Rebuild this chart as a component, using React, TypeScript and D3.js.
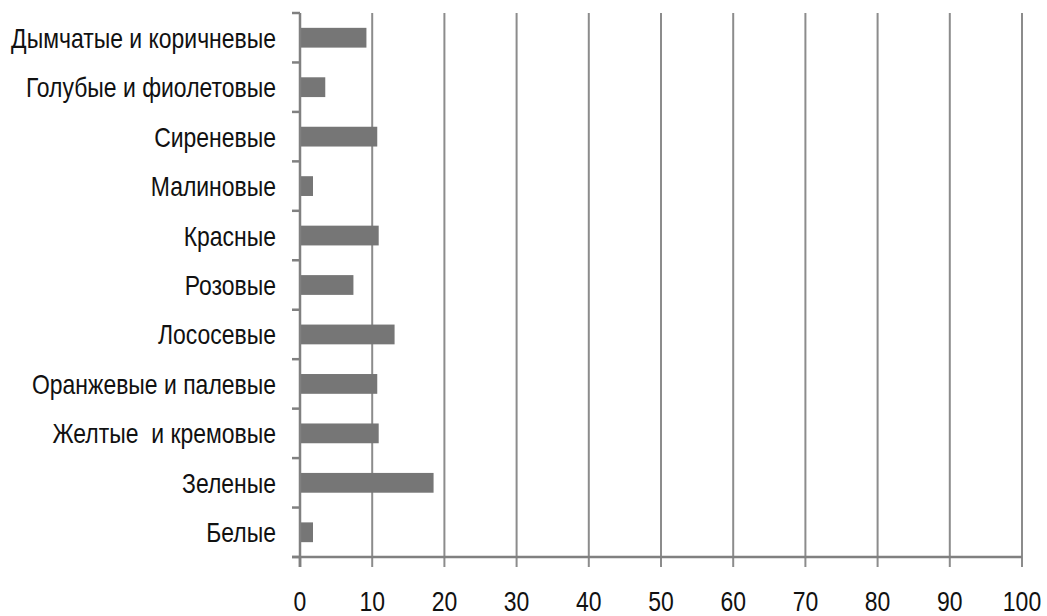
import React, { useEffect, useRef } from 'react'
import * as d3 from 'd3'

const categories = [
  'Дымчатые и коричневые',
  'Голубые и фиолетовые',
  'Сиреневые',
  'Малиновые',
  'Красные',
  'Розовые',
  'Лососевые',
  'Оранжевые и палевые',
  'Желтые  и кремовые',
  'Зеленые',
  'Белые',
]
const values = [9.2, 3.5, 10.7, 1.8, 10.9, 7.4, 13.1, 10.7, 10.9, 18.5, 1.8]
const xTicks = [0, 10, 20, 30, 40, 50, 60, 70, 80, 90, 100]

const W = 1047
const H = 616

const App = () => {
  const ref = useRef<SVGSVGElement>(null)

  useEffect(() => {
    const svg = d3.select(ref.current)
    svg.selectAll('*').remove()

    const left = 300
    const right = 1022
    const top = 13
    const bottom = 557
    const font = '"Liberation Sans", Arial, sans-serif'
    const squeeze = 0.82 // labels in the picture are narrow

    const x = d3.scaleLinear().domain([0, 100]).range([left, right])
    const y = d3.scaleBand().domain(categories).range([top, bottom]).paddingInner(0.6).paddingOuter(0.3)
    const band = d3.scaleBand().domain(categories).range([top, bottom])

    // vertical gridlines
    svg.append('g')
      .selectAll('line')
      .data(xTicks.slice(1))
      .enter()
      .append('line')
      .attr('x1', (d) => x(d))
      .attr('x2', (d) => x(d))
      .attr('y1', top)
      .attr('y2', bottom + 10)
      .attr('stroke', '#8c8c8c')
      .attr('stroke-width', 2)

    // bars
    svg.append('g')
      .selectAll('rect')
      .data(values)
      .enter()
      .append('rect')
      .attr('x', x(0))
      .attr('y', (_, i) => y(categories[i])!)
      .attr('width', (d) => x(d) - x(0))
      .attr('height', y.bandwidth())
      .attr('fill', '#767676')

    // y axis line and ticks
    svg.append('line')
      .attr('x1', left).attr('x2', left)
      .attr('y1', top).attr('y2', bottom + 10)
      .attr('stroke', '#808080').attr('stroke-width', 2.5)

    const yEdges = categories.map((c) => band(c)!).concat([bottom])
    svg.append('g')
      .selectAll('line')
      .data(yEdges)
      .enter()
      .append('line')
      .attr('x1', left - 8).attr('x2', left)
      .attr('y1', (d) => d).attr('y2', (d) => d)
      .attr('stroke', '#808080').attr('stroke-width', 2.5)

    // x axis line
    svg.append('line')
      .attr('x1', left - 8).attr('x2', right)
      .attr('y1', bottom).attr('y2', bottom)
      .attr('stroke', '#808080').attr('stroke-width', 2.5)
    svg.append('line')
      .attr('x1', x(0)).attr('x2', x(0))
      .attr('y1', bottom).attr('y2', bottom + 10)
      .attr('stroke', '#808080').attr('stroke-width', 2.5)

    // category labels
    svg.append('g')
      .selectAll('text')
      .data(categories)
      .enter()
      .append('text')
      .attr('transform', (d) => `translate(276,${band(d)! + band.bandwidth() / 2 + 10}) scale(${squeeze},1)`)
      .attr('text-anchor', 'end')
      .style('font-family', font)
      .style('font-size', '28px')
      .style('fill', '#111')
      .style('white-space', 'pre')
      .text((d) => d)

    // x tick labels
    svg.append('g')
      .selectAll('text')
      .data(xTicks)
      .enter()
      .append('text')
      .attr('transform', (d) => `translate(${x(d)},611) scale(${squeeze},1)`)
      .attr('text-anchor', 'middle')
      .style('font-family', font)
      .style('font-size', '28px')
      .style('fill', '#111')
      .text((d) => d)
  }, [])

  return (
    <div style={{ position: 'absolute', left: 0, top: 0 }}>
      <svg ref={ref} width={W} height={H} style={{ display: 'block', background: '#fff' }}></svg>
    </div>
  )
}

export default App
